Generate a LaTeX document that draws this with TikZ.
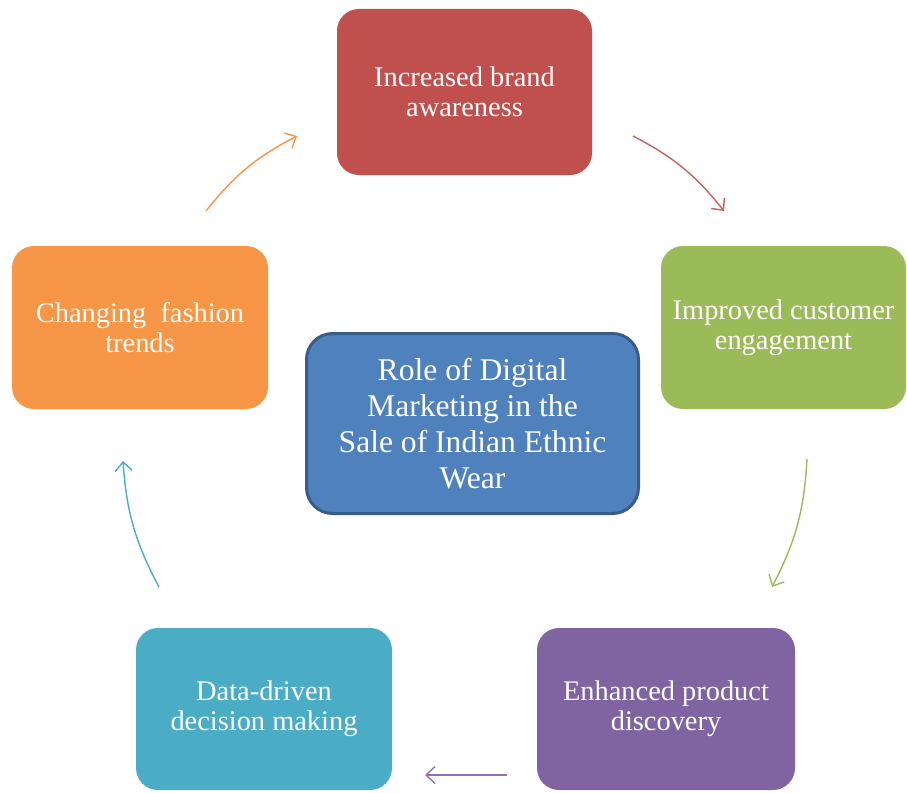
\documentclass[tikz,border=0pt]{standalone}
\usepackage{fontspec}
\setmainfont{Liberation Serif}
\usetikzlibrary{arrows.meta}
\definecolor{cred}{HTML}{C0504D}
\definecolor{cgreen}{HTML}{9BBB59}
\definecolor{cpurple}{HTML}{8064A2}
\definecolor{cteal}{HTML}{4BACC6}
\definecolor{corange}{HTML}{F79646}
\definecolor{cblue}{HTML}{4F81BD}
\definecolor{cblueb}{HTML}{385D8A}
\tikzset{
  box/.style={rounded corners=22pt, text=white, align=center, inner sep=0pt,
    font=\fontsize{28.4}{30}\selectfont},
  cyc/.style={line width=1.4pt, -{Straight Barb[length=9pt,width=17pt,line width=1.4pt]}},
}
\begin{document}
\begin{tikzpicture}[x=1pt,y=-1pt]
\useasboundingbox (0,0) rectangle (907,792);
\node[box, fill=cred, minimum width=255pt, minimum height=166pt] (top) at (464.5,92) {Increased brand\\awareness};
\node[box, fill=cgreen, minimum width=245pt, minimum height=163pt] (right) at (783.5,327.5) {Improved customer\\engagement};
\node[box, fill=cpurple, minimum width=258pt, minimum height=162pt] (br) at (666,709) {Enhanced product\\discovery};
\node[box, fill=cteal, minimum width=256pt, minimum height=162pt] (bl) at (264,709) {Data-driven\\decision making};
\node[box, fill=corange, minimum width=256pt, minimum height=163pt] (left) at (140,327.5) {Changing\ \ fashion\\trends};
\node[box, fill=cblue, draw=cblueb, line width=3pt, rounded corners=26pt, minimum width=332pt, minimum height=180pt,
  font=\fontsize{31.6}{36}\selectfont] (center) at (472.5,423.5) {Role of Digital\\Marketing in the\\Sale of Indian Ethnic\\Wear};
\coordinate (r1) at (633,136);
\coordinate (r2) at (724,211);
\coordinate (g1) at (807,459);
\coordinate (g2) at (772,587);
\coordinate (p1) at (507,775);
\coordinate (p2) at (425,775);
\coordinate (t1) at (159,587);
\coordinate (t2) at (123,461);
\coordinate (o1) at (206,211);
\coordinate (o2) at (297,136);
\draw[cyc, draw=cred!90] (r1) to[bend left=12] (r2);
\draw[cyc, draw=cgreen] (g1) to[bend left=12] (g2);
\draw[cyc, draw=cpurple!90] (p1) -- (p2);
\draw[cyc, draw=cteal] (t1) to[bend left=12] (t2);
\draw[cyc, draw=corange] (o1) to[bend left=12] (o2);
\end{tikzpicture}
\end{document}
